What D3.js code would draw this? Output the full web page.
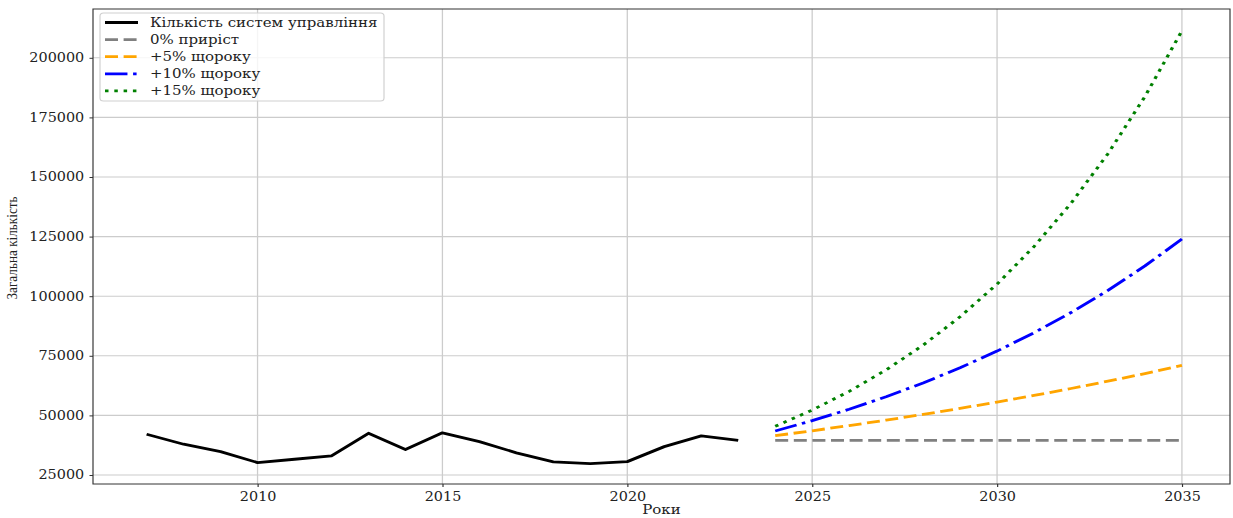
<!DOCTYPE html>
<html><head><meta charset="utf-8">
<script src="https://cdn.jsdelivr.net/npm/d3@7"></script>
<style>html,body{margin:0;padding:0;background:#fff;overflow:hidden}svg{display:block}</style>
</head><body>
<svg id="chart" width="1233" height="518"></svg>
<script>
// ---- data ----
const histYears = [2007,2008,2009,2010,2011,2012,2013,2014,2015,2016,2017,2018,2019,2020,2021,2022,2023];
const histValues = [42100,37900,34800,30200,31600,33000,42500,35700,42700,39000,34300,30500,29800,30600,36900,41400,39500];
const projYears = [2024,2025,2026,2027,2028,2029,2030,2031,2032,2033,2034,2035];
const growth0 = [39500,39500,39500,39500,39500,39500,39500,39500,39500,39500,39500,39500];
const growth5 = [41475,43549,45726,48012,50413,52934,55580,58359,61277,64341,67558,70936];
const growth10 = [43450,47795,52574,57832,63615,69977,76974,84672,93139,102453,112698,123968];
const growth15 = [45425,52239,60075,69086,79449,91366,105071,120831,138956,159800,183769,211335];
const xTicks = [2010,2015,2020,2025,2030,2035];
const yTicks = [25000,50000,75000,100000,125000,150000,175000,200000];
const legendLabels = ["Кількість систем управління","0% приріст","+5% щороку","+10% щороку","+15% щороку"];
const xLabel = "Роки";
const yLabel = "Загальна кількість";

// ---- layout (internal coordinates, stretched horizontally like the reference) ----
const S = 1.17;
const W = 1233 / S, H = 518;
const svg = d3.select("#chart").attr("viewBox", `0 0 ${W} ${H}`).attr("preserveAspectRatio", "none");
const L = 93 / S, R = 1230 / S, T = 9, B = 484;
const x = d3.scaleLinear().domain([2005.55, 2036.3]).range([L, R]);
const y = d3.scaleLinear().domain([21220, 220470]).range([B, T]);
const font = "'DejaVu Serif', serif";
const unit = 3;

// grid
const g = svg.append("g");
g.selectAll("line.gx").data(xTicks).enter().append("line")
  .attr("x1", d => x(d)).attr("x2", d => x(d)).attr("y1", T).attr("y2", B)
  .attr("stroke", "#cccccc").attr("stroke-width", 1.1);
g.selectAll("line.gy").data(yTicks).enter().append("line")
  .attr("x1", L).attr("x2", R).attr("y1", d => y(d)).attr("y2", d => y(d))
  .attr("stroke", "#cccccc").attr("stroke-width", 1.1);

// axes
const xAxis = svg.append("g").attr("transform", `translate(0,${B})`)
  .call(d3.axisBottom(x).tickValues(xTicks).tickFormat(d3.format("d")).tickSize(3).tickPadding(5));
const yAxis = svg.append("g").attr("transform", `translate(${L},0)`)
  .call(d3.axisLeft(y).tickValues(yTicks).tickFormat(d3.format("d")).tickSize(3).tickPadding(4.5));
[xAxis, yAxis].forEach(a => {
  a.select(".domain").remove();
  a.selectAll("line").attr("stroke", "#333");
  a.selectAll("text").attr("font-family", font).attr("font-size", 12.3).attr("fill", "#222");
});
// frame
svg.append("rect").attr("x", L).attr("y", T).attr("width", R - L).attr("height", B - T)
  .attr("fill", "none").attr("stroke", "#333").attr("stroke-width", 1);

// lines
const line = d3.line().x(d => x(d[0])).y(d => y(d[1]));
const zip = (a, b) => a.map((v, i) => [v, b[i]]);
const series = [
  {data: zip(histYears, histValues), color: "#000000", dash: null},
  {data: zip(projYears, growth0), color: "#808080", dash: [3.7*unit, 1.6*unit]},
  {data: zip(projYears, growth5), color: "#FFA500", dash: [3.7*unit, 1.6*unit]},
  {data: zip(projYears, growth10), color: "#0000FF", dash: [6.4*unit, 1.6*unit, 1*unit, 1.6*unit]},
  {data: zip(projYears, growth15), color: "#008000", dash: [1*unit, 1.65*unit]}
];
series.forEach(s => {
  svg.append("path").datum(s.data).attr("d", line)
    .attr("fill", "none").attr("stroke", s.color).attr("stroke-width", 2.8)
    .attr("stroke-linejoin", "round")
    .attr("stroke-dasharray", s.dash ? s.dash.join(",") : null);
});

// labels
svg.append("text").attr("x", (L + R) / 2).attr("y", 514).attr("text-anchor", "middle")
  .attr("font-family", font).attr("font-size", 12.8).attr("fill", "#222").text(xLabel);
svg.append("text").attr("transform", `translate(${16.5 / S},248) rotate(-90)`).attr("text-anchor", "middle")
  .attr("font-family", "'Liberation Serif', serif").attr("font-size", 13.2).attr("fill", "#222").text(yLabel);

// legend
const lg = svg.append("g");
lg.append("rect").attr("x", 100 / S).attr("y", 13).attr("width", (384 - 100) / S).attr("height", 88)
  .attr("rx", 3).attr("fill", "#fff").attr("fill-opacity", 0.8).attr("stroke", "#d0d0d0").attr("stroke-width", 1);
legendLabels.forEach((lab, i) => {
  const yy = 22.5 + i * 17.1;
  lg.append("line").attr("x1", 105 / S).attr("x2", 138 / S).attr("y1", yy).attr("y2", yy)
    .attr("stroke", series[i].color).attr("stroke-width", 2.8)
    .attr("stroke-dasharray", series[i].dash ? series[i].dash.join(",") : null);
  lg.append("text").attr("x", 150 / S).attr("y", yy + 4.5)
    .attr("font-family", font).attr("font-size", 12.8).attr("fill", "#222").text(lab);
});
</script>
</body></html>
